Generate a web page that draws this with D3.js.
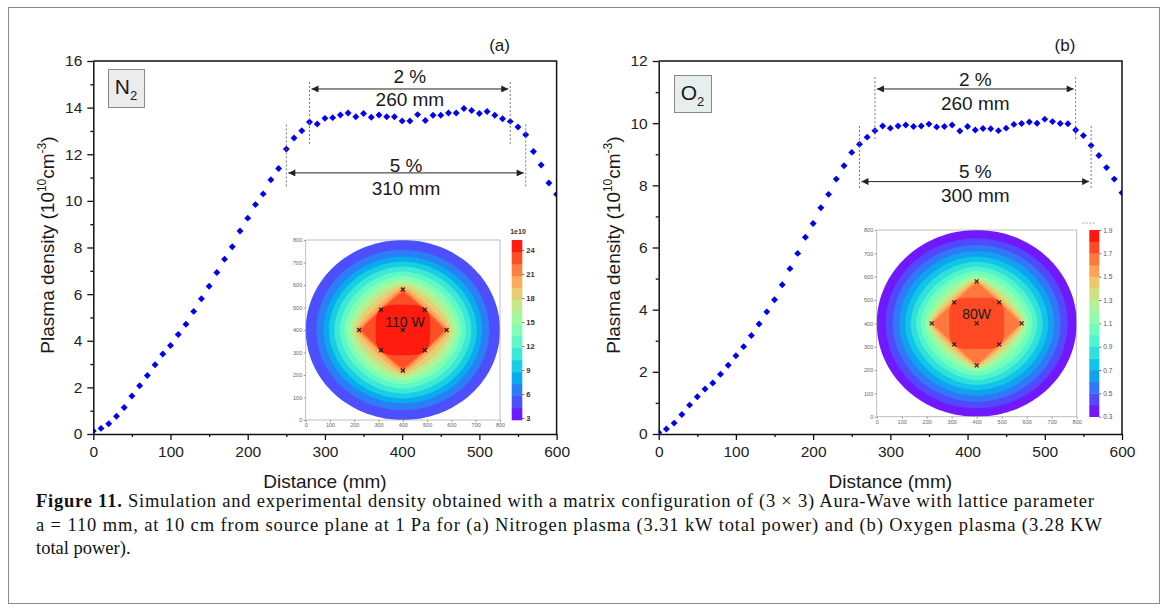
<!DOCTYPE html>
<html>
<head>
<meta charset="utf-8">
<script src="https://cdn.jsdelivr.net/npm/d3@7"></script>
<style>
  body { margin: 0; background: #fff; }
  svg text { font-family: "Liberation Sans", Arial, sans-serif; }
</style>
</head>
<body>
<svg id="fig" width="1168" height="614"></svg>
<script>
// distances along the line of measurement, mm
var distances = [0,10,20,30,40,50,60,70,80,90,100,110,120,130,140,150,160,170,180,190,200,
  210,220,230,240,250,260,270,280,290,300,310,320,330,340,350,360,370,380,390,400,
  410,420,430,440,450,460,470,480,490,500,510,520,530,540,550,560,570,580,590,600];

// plasma density, 10^10 cm^-3
var n2Density = [0.13,0.24,0.44,0.76,1.14,1.63,2.07,2.51,2.97,3.43,3.80,4.27,4.71,5.26,5.80,6.34,6.93,7.50,8.03,8.71,9.26,
  9.84,10.30,10.91,11.39,12.22,12.70,13.01,13.38,13.30,13.54,13.57,13.68,13.77,13.61,13.75,13.59,13.68,13.61,13.61,13.43,
  13.43,13.70,13.45,13.67,13.67,13.77,13.77,13.96,13.88,13.75,13.83,13.67,13.52,13.41,13.17,12.84,12.12,11.54,10.77,10.28];
var o2Density = [0.05,0.16,0.35,0.63,0.93,1.20,1.45,1.64,1.92,2.21,2.52,2.81,3.17,3.54,3.93,4.32,4.80,5.32,5.81,6.33,6.77,
  7.28,7.71,8.20,8.63,9.06,9.32,9.55,9.76,9.91,9.84,9.91,9.94,9.89,9.91,9.97,9.88,9.89,9.94,9.75,9.89,
  9.78,9.83,9.82,9.76,9.84,9.96,9.99,10.04,10.00,10.13,10.05,9.99,9.98,9.78,9.60,9.28,8.96,8.57,8.20,7.76];

var xTicks = [0,100,200,300,400,500,600];
var xMinorTicks = [50,150,250,350,450,550];
var n2YTicks = [0,2,4,6,8,10,12,14,16];
var n2YMinorTicks = [1,3,5,7,9,11,13,15];
var o2YTicks = [0,2,4,6,8,10,12];
var o2YMinorTicks = [1,3,5,7,9,11];

// uniformity spans (mm)
var n2SpanPct = ["2 %", "5 %"], n2SpanLen = ["260 mm", "310 mm"];
var n2SpanFrom = [280, 250], n2SpanTo = [540, 560];
var o2SpanPct = ["2 %", "5 %"], o2SpanLen = ["260 mm", "300 mm"];
var o2SpanFrom = [280, 260], o2SpanTo = [540, 560];

// simulation insets (mm grid 0..800)
var insetTicks = [0,100,200,300,400,500,600,700,800];
var sourceX = [400,220,580,400,400,310,310,490,490];
var sourceY = [400,400,400,220,580,310,490,310,490];

var n2Levels = [2.75,4.25,5.75,7.25,8.75,10.25,11.75,13.25,14.75,16.25,17.75,19.25,20.75,22.25,23.75,25.25];
var n2ColorbarTicks = [3,6,9,12,15,18,21,24];
// contour boundaries: band index, radius along axes, radius along diagonal
var n2Band =   [1,   2,   3,   4,   5,   6,   7,   8,   9,   10,  11,  12,  13,  14];
var n2RAxis =  [400, 356, 326, 304, 282, 260, 240, 224, 210, 198, 192, 185, 172, 112];
var n2RDiag =  [400, 356, 324, 300, 276, 252, 230, 210, 190, 172, 150, 134, 127, 132];

var o2Levels = [0.3,0.4,0.5,0.6,0.7,0.8,0.9,1.0,1.1,1.2,1.3,1.4,1.5,1.6,1.7,1.8,1.9];
var o2ColorbarTicks = [0.3,0.5,0.7,0.9,1.1,1.3,1.5,1.7,1.9];
var o2Band =   [0,   1,   2,   3,   4,   5,   6,   7,   8,   9,   10,  11,  12,  13,  14];
var o2RAxis =  [400, 364, 336, 310, 286, 264, 243, 224, 208, 198, 192, 187, 183, 178, 110];
var o2RDiag =  [400, 364, 334, 306, 280, 256, 232, 212, 192, 174, 160, 148, 138, 128, 132];

var captionLines = [
  "Simulation and experimental density obtained with a matrix configuration of (3 \u00d7 3) Aura-Wave with lattice parameter",
  "a = 110 mm, at 10 cm from source plane at 1 Pa for (a) Nitrogen plasma (3.31 kW total power) and (b) Oxygen plasma (3.28 KW",
  "total power)."
];

var svg = d3.select('#fig');

// matplotlib "rainbow" colour map
function rainbow(t) {
  var r = Math.min(1, Math.abs(2 * t - 0.5));
  var g = Math.sin(Math.PI * t);
  var b = Math.cos(Math.PI * t / 2);
  return d3.rgb(r * 255, g * 255, b * 255).formatHex();
}

// closed outline that goes from circle (rd == ra) to diamond / rounded square
function contourPath(ra, rd, sx, sy) {
  var n = 1 / (0.5 - Math.log2(rd / ra));
  var pts = d3.range(0, 360, 2).map(function(deg) {
    var t = deg * Math.PI / 180, c = Math.cos(t), s = Math.sin(t);
    return [sx(400 + ra * Math.sign(c) * Math.pow(Math.abs(c), 2 / n)),
            sy(400 + ra * Math.sign(s) * Math.pow(Math.abs(s), 2 / n))];
  });
  return d3.line().curve(d3.curveLinearClosed)(pts);
}

var defs = svg.append('defs');
defs.append('marker')
  .attr('id', 'arrowhead')
  .attr('viewBox', '0 0 10 10')
  .attr('refX', 10).attr('refY', 5)
  .attr('markerUnits', 'userSpaceOnUse')
  .attr('markerWidth', 10).attr('markerHeight', 7)
  .attr('orient', 'auto-start-reverse')
  .append('path').attr('d', 'M0,0 L10,5 L0,10 z').attr('fill', '#222');

// outer figure frame
svg.append('rect')
  .attr('x', 8.5).attr('y', 7.5).attr('width', 1151).attr('height', 596)
  .attr('fill', 'none').attr('stroke', '#8a8a8a').attr('stroke-width', 1);

function drawInset(g, ins) {
  var sx = d3.scaleLinear().domain([0, 800]).range([ins.left, ins.right]);
  var sy = d3.scaleLinear().domain([0, 800]).range([ins.bottom, ins.top]);
  var nb = ins.levels.length - 1;
  var cnorm = d3.scaleLinear().domain([ins.levels[0], ins.levels[nb]]).range([0, 1]);
  function bandColor(i) { return rainbow(cnorm((ins.levels[i] + ins.levels[i + 1]) / 2)); }

  g.append('rect')
    .attr('x', ins.left - 20).attr('y', ins.top - 14)
    .attr('width', ins.cbRight - ins.left + 44).attr('height', ins.bottom - ins.top + 26)
    .attr('fill', '#fff');

  g.selectAll('path.band')
    .data(ins.band)
    .join('path')
    .attr('class', 'band')
    .attr('d', function(d, i) { return contourPath(ins.rAxis[i], ins.rDiag[i], sx, sy); })
    .attr('fill', function(d) { return bandColor(d); });

  g.append('rect')
    .attr('x', ins.left).attr('y', ins.top)
    .attr('width', ins.right - ins.left).attr('height', ins.bottom - ins.top)
    .attr('fill', 'none').attr('stroke', '#b0b0b0').attr('stroke-width', 0.8);

  // antenna positions
  var src = g.append('g');
  sourceX.forEach(function(px, i) {
    var cx = sx(px), cy = sy(sourceY[i]);
    src.append('path')
      .attr('d', 'M' + (cx - 2) + ',' + (cy - 2) + 'L' + (cx + 2) + ',' + (cy + 2) +
                 'M' + (cx - 2) + ',' + (cy + 2) + 'L' + (cx + 2) + ',' + (cy - 2))
      .attr('stroke', '#222').attr('stroke-width', 1.1);
  });

  g.append('text')
    .attr('x', sx(ins.labelX)).attr('y', sy(ins.labelY))
    .attr('dy', '0.35em').attr('text-anchor', 'middle')
    .attr('font-size', 14).attr('fill', '#1a1a1a')
    .text(ins.label);

  var ax = g.append('g').attr('transform', 'translate(0,' + ins.bottom + ')')
    .call(d3.axisBottom(sx).tickValues(insetTicks).tickSize(2).tickPadding(1.5));
  var ay = g.append('g').attr('transform', 'translate(' + ins.left + ',0)')
    .call(d3.axisLeft(sy).tickValues(insetTicks).tickSize(2).tickPadding(1.5));
  [ax, ay].forEach(function(a) {
    a.select('.domain').remove();
    a.selectAll('line').attr('stroke', '#999');
    a.selectAll('text').attr('font-size', 5.5).attr('fill', '#666');
  });

  // colour bar
  var cb = d3.scaleLinear().domain([ins.levels[0], ins.levels[nb]]).range([ins.bottom, ins.top]);
  g.selectAll('rect.cb')
    .data(d3.range(nb))
    .join('rect')
    .attr('class', 'cb')
    .attr('x', ins.cbLeft).attr('width', ins.cbRight - ins.cbLeft)
    .attr('y', function(i) { return cb(ins.levels[i + 1]); })
    .attr('height', function(i) { return cb(ins.levels[i]) - cb(ins.levels[i + 1]) + 0.3; })
    .attr('fill', function(i) { return bandColor(i); });
  var acb = g.append('g').attr('transform', 'translate(' + ins.cbRight + ',0)')
    .call(d3.axisRight(cb).tickValues(ins.cbTicks).tickSize(2).tickPadding(2).tickFormat(ins.cbFormat));
  acb.select('.domain').remove();
  acb.selectAll('line').attr('stroke', '#666');
  acb.selectAll('text').attr('font-size', ins.cbFont).attr('font-weight', ins.cbWeight).attr('fill', ins.cbColor);

  if (ins.exponent) {
    g.append('text')
      .attr('x', (ins.cbLeft + ins.cbRight) / 2 + 1).attr('y', ins.top - 6)
      .attr('text-anchor', 'middle').attr('font-size', 7).attr('font-weight', 'bold').attr('fill', '#333')
      .text(ins.exponent);
  } else {
    g.append('line')
      .attr('x1', ins.cbLeft - 7).attr('x2', ins.cbRight - 4)
      .attr('y1', ins.top - 7).attr('y2', ins.top - 7)
      .attr('stroke', '#aaa').attr('stroke-dasharray', '2,1.5');
  }
}

function drawPanel(p) {
  var g = svg.append('g');
  var top = 61, bottom = 434;
  var x = d3.scaleLinear().domain([0, 600]).range([p.left, p.right]);
  var y = d3.scaleLinear().domain([0, p.yMax]).range([bottom, top]);

  g.append('clipPath').attr('id', p.id + '-clip')
    .append('rect').attr('x', p.left).attr('y', top)
    .attr('width', p.right - p.left).attr('height', bottom - top);

  // measured points
  g.append('g').attr('clip-path', 'url(#' + p.id + '-clip)')
    .selectAll('path')
    .data(p.values)
    .join('path')
    .attr('d', d3.symbol().type(d3.symbolSquare).size(24))
    .attr('transform', function(d, i) { return 'translate(' + x(distances[i]) + ',' + y(d) + ') rotate(45)'; })
    .attr('fill', '#0000f0');

  // uniformity annotations
  p.spanPct.forEach(function(pct, i) {
    var a = p.spanLayout[i];
    [p.spanFrom[i], p.spanTo[i]].forEach(function(v) {
      g.append('line')
        .attr('x1', x(v)).attr('x2', x(v))
        .attr('y1', y(a.dashTop)).attr('y2', y(a.dashBottom))
        .attr('stroke', '#777').attr('stroke-width', 1).attr('stroke-dasharray', '2,2');
    });
    g.append('line')
      .attr('x1', x(p.spanFrom[i]) + 2).attr('x2', x(p.spanTo[i]) - 2)
      .attr('y1', y(a.arrow)).attr('y2', y(a.arrow))
      .attr('stroke', '#222').attr('stroke-width', 1)
      .attr('marker-start', 'url(#arrowhead)').attr('marker-end', 'url(#arrowhead)');
    var cx = x((p.spanFrom[i] + p.spanTo[i]) / 2);
    g.append('text').attr('x', cx).attr('y', y(a.pct)).attr('dy', '0.35em')
      .attr('text-anchor', 'middle').attr('font-size', 19).attr('fill', '#1a1a1a').text(pct);
    g.append('text').attr('x', cx).attr('y', y(a.len)).attr('dy', '0.35em')
      .attr('text-anchor', 'middle').attr('font-size', 19).attr('fill', '#1a1a1a').text(p.spanLen[i]);
  });

  drawInset(g, p.inset);

  // axes
  var xa = g.append('g').attr('transform', 'translate(0,' + bottom + ')')
    .call(d3.axisBottom(x).tickValues(xTicks).tickSize(6).tickSizeOuter(0).tickPadding(6));
  var xm = g.append('g').attr('transform', 'translate(0,' + bottom + ')')
    .call(d3.axisBottom(x).tickValues(xMinorTicks).tickSize(3).tickFormat(''));
  var ya = g.append('g').attr('transform', 'translate(' + p.left + ',0)')
    .call(d3.axisLeft(y).tickValues(p.yTicks).tickSize(6).tickSizeOuter(0).tickPadding(5));
  var ym = g.append('g').attr('transform', 'translate(' + p.left + ',0)')
    .call(d3.axisLeft(y).tickValues(p.yMinor).tickSize(3).tickFormat(''));
  [xm, ym].forEach(function(a) { a.select('.domain').remove(); });
  [xa, xm, ya, ym].forEach(function(a) {
    a.selectAll('line').attr('stroke', '#111').attr('stroke-width', 1.3);
    a.select('.domain').attr('stroke', '#111').attr('stroke-width', 1.5);
    a.selectAll('text').attr('font-size', 15.5).attr('fill', '#222')
      .attr('font-family', '"Liberation Sans", Arial, sans-serif');
  });
  g.append('path')
    .attr('d', 'M' + p.left + ',' + top + 'H' + p.right + 'V' + bottom)
    .attr('fill', 'none').attr('stroke', '#111').attr('stroke-width', 1.5);

  // axis titles
  g.append('text')
    .attr('x', (p.left + p.right) / 2).attr('y', 488)
    .attr('text-anchor', 'middle').attr('font-size', 19).attr('fill', '#1a1a1a')
    .text('Distance (mm)');
  var yl = g.append('text')
    .attr('transform', 'translate(' + (p.left - 39) + ',' + 245 + ') rotate(-90)')
    .attr('text-anchor', 'middle').attr('font-size', 19).attr('fill', '#1a1a1a');
  yl.append('tspan').text('Plasma density (10');
  yl.append('tspan').attr('dy', -8).attr('font-size', 12).text('10');
  yl.append('tspan').attr('dy', 8).text('cm');
  yl.append('tspan').attr('dy', -8).attr('font-size', 12).text('-3');
  yl.append('tspan').attr('dy', 8).text(')');

  // panel letter
  g.append('text')
    .attr('x', p.right - 57).attr('y', 45).attr('dy', '0.35em')
    .attr('text-anchor', 'middle').attr('font-size', 17).attr('fill', '#1a1a1a')
    .text(p.letter);

  // gas label box
  g.append('rect')
    .attr('x', p.gasBox[0] + 0.5).attr('y', p.gasBox[1] + 0.5)
    .attr('width', p.gasBox[2]).attr('height', p.gasBox[3])
    .attr('fill', p.gasFill).attr('stroke', '#8a8a8a').attr('stroke-width', 1);
  var gt = g.append('text')
    .attr('x', p.gasBox[0] + p.gasBox[2] / 2).attr('y', p.gasBox[1] + p.gasBox[3] / 2 + 6)
    .attr('text-anchor', 'middle').attr('font-size', 21).attr('fill', '#1a1a1a');
  gt.append('tspan').text(p.gas);
  gt.append('tspan').attr('dy', 6).attr('font-size', 13).text('2');
}

drawPanel({
  id: 'n2', left: 93.3, right: 556.6, yMax: 16,
  values: n2Density, yTicks: n2YTicks, yMinor: n2YMinorTicks,
  letter: '(a)', gas: 'N', gasBox: [108, 69, 36, 38], gasFill: '#ececec',
  spanPct: n2SpanPct, spanLen: n2SpanLen, spanFrom: n2SpanFrom, spanTo: n2SpanTo,
  spanLayout: [
    { dashTop: 15.1, dashBottom: 12.45, arrow: 14.8, pct: 15.35, len: 14.36 },
    { dashTop: 13.28, dashBottom: 10.57, arrow: 11.2, pct: 11.54, len: 10.52 }
  ],
  inset: {
    left: 305.7, right: 500, top: 240, bottom: 420, cbLeft: 511.7, cbRight: 522.3,
    levels: n2Levels, cbTicks: n2ColorbarTicks, cbFormat: d3.format('d'),
    cbFont: 7.5, cbWeight: 'bold', cbColor: '#333', exponent: '1e10',
    band: n2Band, rAxis: n2RAxis, rDiag: n2RDiag,
    label: '110 W', labelX: 409, labelY: 437
  }
});

drawPanel({
  id: 'o2', left: 658.7, right: 1122, yMax: 12,
  values: o2Density, yTicks: o2YTicks, yMinor: o2YMinorTicks,
  letter: '(b)', gas: 'O', gasBox: [674, 75, 37, 37], gasFill: '#e6eeee',
  spanPct: o2SpanPct, spanLen: o2SpanLen, spanFrom: o2SpanFrom, spanTo: o2SpanTo,
  spanLayout: [
    { dashTop: 11.48, dashBottom: 9.46, arrow: 11.1, pct: 11.4, len: 10.65 },
    { dashTop: 9.91, dashBottom: 7.9, arrow: 8.12, pct: 8.44, len: 7.69 }
  ],
  inset: {
    left: 876.7, right: 1076.7, top: 230, bottom: 416.7, cbLeft: 1089.3, cbRight: 1099.3,
    levels: o2Levels, cbTicks: o2ColorbarTicks, cbFormat: d3.format('.1f'),
    cbFont: 6.5, cbWeight: 'normal', cbColor: '#555', exponent: null,
    band: o2Band, rAxis: o2RAxis, rDiag: o2RDiag,
    label: '80W', labelX: 400, labelY: 439
  }
});

// caption
var capWidths = [1058, 1066, 0];
captionLines.forEach(function(line, i) {
  var t = svg.append('text')
    .attr('x', 36).attr('y', 507 + i * 23.5)
    .attr('font-size', 18.5).attr('fill', '#111')
    .style('font-family', '"Liberation Serif", "Times New Roman", serif');
  if (i === 0) {
    t.append('tspan').attr('font-weight', 'bold').text('Figure 11.');
    t.append('tspan').text(' ' + line);
  } else {
    t.text(line);
  }
  if (capWidths[i]) t.attr('textLength', capWidths[i]).attr('lengthAdjust', 'spacing');
});
</script>
</body>
</html>
